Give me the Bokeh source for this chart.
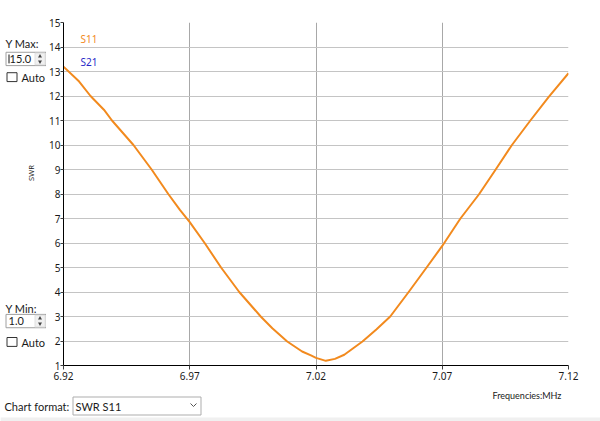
import math
from bokeh.plotting import figure
from bokeh.models import Range1d, FixedTicker, Label
from bokeh.layouts import row, column
from bokeh.core.properties import value
from bokeh.embed import file_html
from bokeh.resources import INLINE

# ---- data ----
freq_mhz = [6.9200, 6.9262, 6.9307, 6.9360, 6.9392, 6.9477,
            6.9549, 6.9615, 6.9661, 6.9700, 6.9759, 6.9824, 6.9896, 6.9981,
            7.0027, 7.0086, 7.0145, 7.0180, 7.0200, 7.0239, 7.0275, 7.0312,
            7.0384, 7.0440, 7.0494, 7.0567, 7.0638, 7.0700, 7.0772, 7.0845,
            7.0911, 7.0976, 7.1049, 7.1121, 7.1200]
swr_s11 = [13.20, 12.59, 12.00, 11.44, 11.00, 10.00,
           9.00, 8.00, 7.35, 6.85, 6.00, 5.00, 4.00, 3.00,
           2.52, 1.98, 1.57, 1.41, 1.31, 1.19, 1.27, 1.44,
           1.98, 2.48, 3.00, 4.00, 5.00, 5.88, 7.00, 7.98,
           8.99, 10.00, 11.00, 11.95, 12.93]
x_ticks = [6.92, 6.97, 7.02, 7.07, 7.12]
y_ticks = list(range(1, 16))
series_names = ["S11", "S21"]
y_max_text = "15.0"
y_min_text = "1.0"
chart_format = "SWR S11"
x_unit_text = "Frequencies:MHz"
y_label_text = "SWR"

FONT = "Noto Sans"
UI_FONT = "Lato"
ORANGE = "#f28a1e"
TXT = "#1a1a1a"

W, H = 600, 421
LEFT_W = 46
TOP_H = 386

# ---------------- main chart ----------------
p = figure(width=W - LEFT_W, height=TOP_H, output_backend="svg", toolbar_location=None,
           x_range=Range1d(6.92, 7.12), y_range=Range1d(1, 15),
           min_border_left=15, min_border_right=32, min_border_top=22,
           min_border_bottom=21)
p.outline_line_color = None
p.background_fill_color = "white"
p.border_fill_color = "white"

for ax in (p.xaxis[0], p.yaxis[0]):
    ax.axis_line_color = "black"
    ax.major_tick_line_color = "#404040"
    ax.major_tick_in = 0
    ax.minor_tick_line_color = None
    ax.major_label_text_font = FONT
    ax.major_label_text_font_size = "10px"
    ax.major_label_text_color = TXT

p.xaxis[0].ticker = FixedTicker(ticks=x_ticks)
p.xaxis[0].major_label_overrides = {t: f"{t:.2f}" for t in x_ticks}
p.xaxis[0].major_tick_out = 4
p.xaxis[0].major_label_standoff = 2
p.yaxis[0].ticker = FixedTicker(ticks=y_ticks)
p.yaxis[0].major_tick_out = 3
p.yaxis[0].major_label_standoff = 0

p.xgrid[0].grid_line_color = "#a8a8a8"
p.ygrid[0].grid_line_color = "#c4c4c4"
p.xgrid[0].ticker = FixedTicker(ticks=x_ticks)
p.ygrid[0].ticker = FixedTicker(ticks=y_ticks)

p.line(freq_mhz, swr_s11, line_color=ORANGE, line_width=2, line_join="round")

p.add_layout(Label(x=17, y=327, x_units="screen", y_units="screen", text=series_names[0],
                   text_font=FONT, text_font_size="10px", text_color=ORANGE,
                   text_baseline="middle"))
p.add_layout(Label(x=17, y=304, x_units="screen", y_units="screen", text=series_names[1],
                   text_font=FONT, text_font_size="10px", text_color="#2828c8",
                   text_baseline="middle"))


def panel(w, h, y0):
    """Figure whose data coordinates are page pixels (x right, y down)."""
    f = figure(width=w, height=h, output_backend="svg", toolbar_location=None,
               x_range=Range1d(0, w), y_range=Range1d(y0 + h, y0),
               min_border=0, min_border_left=0, min_border_right=0,
               min_border_top=0, min_border_bottom=0)
    f.axis.visible = False
    f.grid.visible = False
    f.outline_line_color = None
    f.background_fill_color = "white"
    f.border_fill_color = "white"
    return f


def txt(f, x, y, t, size="11px", color=TXT, align="left", font=UI_FONT):
    f.text(x=[x], y=[y], text=[t], text_font=value(font), text_font_size=size,
           text_color=color, text_baseline="middle", text_align=align)


def box(f, l, r, t, b, fill="white", line="#a0a0a0"):
    f.quad(left=[l], right=[r], top=[t], bottom=[b], fill_color=fill,
           line_color=line, line_width=1)


def spinbox(f, top, s, caret=False):
    box(f, 5.5, 45.5, top + 0.5, top + 15.5)
    box(f, 34.5, 44.5, top + 1.5, top + 14.5, fill="#f0f0f0", line="#e0e0e0")
    f.scatter(x=[39.5], y=[top + 5], marker="triangle", size=4,
              fill_color="#444444", line_color=None)
    f.scatter(x=[39.5], y=[top + 11], marker="inverted_triangle", size=4,
              fill_color="#444444", line_color=None)
    if caret:
        f.line(x=[8.5, 8.5], y=[top + 3, top + 13], line_color="#111111", line_width=1)
    txt(f, 9 if caret else 8, top + 8, s)


def checkbox(f, top, s):
    box(f, 6.5, 16.5, top + 0.5, top + 10.5, line="#333333")
    txt(f, 21, top + 6, s)


# ---------------- left control strip ----------------
lp = panel(LEFT_W, TOP_H, 0)
txt(lp, 5, 23.5, "Y Max:")
spinbox(lp, 33, y_max_text, caret=True)
checkbox(lp, 56, "Auto")
lp.add_layout(Label(x=30.5, y=TOP_H - 193.5, x_units="screen", y_units="screen",
                    text=y_label_text, angle=math.pi / 2, text_align="center",
                    text_baseline="middle", text_font=FONT, text_font_size="7.5px",
                    text_color=TXT))
txt(lp, 5, 322, "Y Min:")
spinbox(lp, 328, y_min_text)
checkbox(lp, 354, "Auto")

# ---------------- bottom strip ----------------
bp = panel(W, H - TOP_H, TOP_H)
txt(bp, 492, 395, x_unit_text, size="9px")
txt(bp, 4, 406, "Chart format:")
box(bp, 72.5, 200.5, 396.5, 414.5, line="#adadad")
txt(bp, 75, 405.5, chart_format)
bp.line(x=[190, 193, 196], y=[403, 406, 403], line_color="#555555", line_width=1)
bp.quad(left=[0], right=[W], top=[417], bottom=[H], fill_color="#f0f0f0", line_color=None)

layout = column(row(lp, p, spacing=0), bp, spacing=0)

open("out.html", "w").write(file_html(layout, INLINE))
